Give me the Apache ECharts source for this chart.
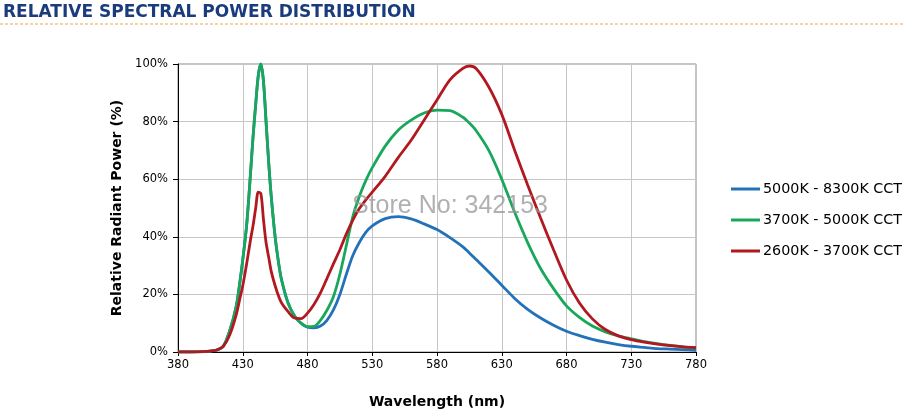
<!DOCTYPE html>
<html>
<head>
<meta charset="utf-8">
<title>Relative Spectral Power Distribution</title>
<script src="https://cdn.jsdelivr.net/npm/echarts@6/dist/echarts.min.js"></script>
<style>
  html, body { margin: 0; padding: 0; background: #fff; }
  #chart { width: 903px; height: 414px; }
</style>
</head>
<body>
<div id="chart"></div>
<script>
// wavelength samples (nm), shared by all three curves
var wavelengths = [380, 390, 400, 405, 410, 415, 420, 425, 428, 430,
  433, 436, 438, 440, 442, 444, 446, 448, 450, 452,
  455, 458, 460, 465, 470, 475, 480, 485, 490, 495,
  500, 505, 510, 515, 520, 525, 530, 540, 550, 560,
  570, 580, 590, 600, 605, 610, 620, 630, 640, 650,
  660, 670, 680, 690, 700, 710, 720, 730, 740, 750,
  760, 770, 780];

// relative radiant power (%)
var cool = [0, 0, 0.1, 0.3, 0.7, 2, 7.5, 16, 25, 32,
  44, 62, 75, 86, 96, 100, 94, 80, 66, 54,
  40, 30, 25, 17, 12.5, 10, 8.6, 8.4, 9, 11,
  14.6, 20, 27, 33.5, 38, 41.5, 43.8, 46.3, 47, 46.2,
  44.5, 42.5, 39.7, 36.5, 34.4, 32.2, 27.8, 23.2, 18.6, 14.8,
  11.8, 9.3, 7.2, 5.7, 4.4, 3.4, 2.6, 2, 1.6, 1.2,
  1, 0.8, 0.6];

var neutral = [0, 0, 0.1, 0.3, 0.7, 2, 7.5, 16, 25, 32,
  44, 62, 75, 86, 96, 100, 94, 80, 66, 54,
  40, 30, 25, 17, 12.5, 10, 8.8, 8.9, 11, 14.5,
  19.2, 27, 37, 47, 54, 59.5, 64, 71.5, 77, 80.5,
  83, 84, 83.8, 81.5, 79.5, 77, 70, 60, 48.5, 38,
  29, 22, 16, 12, 9, 7, 5.6, 4.6, 3.6, 2.9,
  2.3, 1.8, 1.4];

var warm = [0, 0, 0.1, 0.3, 0.7, 2, 6, 13, 19, 23,
  30.6, 39, 44, 50, 55.5, 55, 46, 38, 33, 28,
  23, 19, 17, 14, 11.8, 11.6, 13.5, 16.5, 20.5, 25.5,
  30.6, 35.5, 41, 45.8, 49.8, 52.8, 55.5, 61, 67.5, 73.5,
  80.5, 87.5, 94.5, 98.5, 99.3, 98.5, 92, 82.5, 70, 58,
  46.5, 35.5, 25, 17, 11.5, 7.8, 5.6, 4.3, 3.4, 2.7,
  2.2, 1.8, 1.5];

var seriesNames = ['5000K - 8300K CCT', '3700K - 5000K CCT', '2600K - 3700K CCT'];
var seriesColors = ['#2371b8', '#19a85b', '#b2181f'];

function pairs(vals) {
  return wavelengths.map(function (w, i) { return [w, vals[i]]; });
}

var chart = echarts.init(document.getElementById('chart'));
var font = 'DejaVu Sans, Verdana, sans-serif';

var option = {
  animation: false,
  title: {
    text: 'RELATIVE SPECTRAL POWER DISTRIBUTION',
    left: 3,
    top: 4,
    padding: 0,
    textStyle: { fontFamily: font, fontSize: 17, fontWeight: 'bold', color: '#1b3c7c' }
  },
  graphic: [
    {
      type: 'line',
      shape: { x1: 0, y1: 24, x2: 903, y2: 24 },
      style: { stroke: '#e6a84a', lineWidth: 1, lineDash: [3, 2] }
    },
    {
      type: 'text',
      left: 352,
      top: 194,
      z: 10,
      style: {
        text: 'Store No: 342153',
        font: '25px "Liberation Sans", Arial, sans-serif',
        fill: 'rgba(150,150,150,0.75)'
      }
    }
  ],
  legend: {
    orient: 'vertical',
    left: 726,
    top: 177,
    itemWidth: 29,
    itemHeight: 3,
    itemGap: 17,
    icon: 'rect',
    data: seriesNames,
    textStyle: { fontFamily: font, fontSize: 14.3, color: '#000', padding: [0, 0, 0, -2] }
  },
  grid: {
    left: 178,
    right: 207,
    top: 64,
    bottom: 58,
    show: true,
    borderColor: '#8a8a8a',
    borderWidth: 1
  },
  xAxis: {
    type: 'value',
    min: 380,
    max: 780,
    interval: 50,
    name: 'Wavelength (nm)',
    nameLocation: 'middle',
    nameGap: 43,
    nameTextStyle: { fontFamily: font, fontSize: 14, fontWeight: 'bold', color: '#000' },
    axisLine: { lineStyle: { color: '#000', width: 1 } },
    axisTick: { show: true, length: 4, lineStyle: { color: '#000' } },
    axisLabel: { fontFamily: font, fontSize: 11.5, color: '#000', margin: 7 },
    splitLine: { show: true, lineStyle: { color: '#c6c6c6', width: 1 } }
  },
  yAxis: {
    type: 'value',
    min: 0,
    max: 100,
    interval: 20,
    name: 'Relative Radiant Power (%)',
    nameLocation: 'middle',
    nameGap: 54,
    nameRotate: 90,
    nameTextStyle: { fontFamily: font, fontSize: 14, fontWeight: 'bold', color: '#000' },
    axisLine: { show: true, lineStyle: { color: '#000', width: 1 } },
    axisTick: { show: true, length: 5, lineStyle: { color: '#000' } },
    axisLabel: { fontFamily: font, fontSize: 11.5, color: '#000', margin: 10, formatter: '{value}%' },
    splitLine: { show: true, lineStyle: { color: '#c6c6c6', width: 1 } }
  },
  series: [cool, neutral, warm].map(function (vals, i) {
    return {
      name: seriesNames[i],
      type: 'line',
      data: pairs(vals),
      smooth: 0.3,
      symbol: 'none',
      color: seriesColors[i],
      lineStyle: { width: 2.8, color: seriesColors[i] }
    };
  })
};

chart.setOption(option);
</script>
</body>
</html>
